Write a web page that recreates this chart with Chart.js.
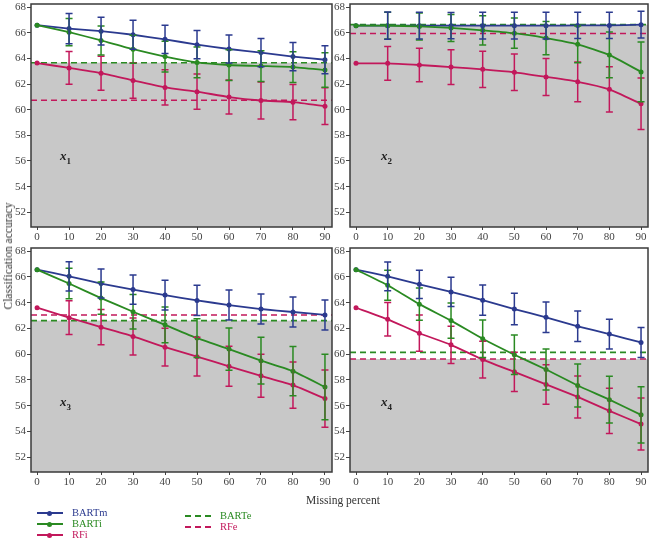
<!DOCTYPE html>
<html>
<head>
<meta charset="utf-8">
<script src="https://cdn.jsdelivr.net/npm/chart.js@4.4.1/dist/chart.umd.min.js"></script>
<style>
  body { margin: 0; background: #fff; width: 652px; height: 539px; position: relative; overflow: hidden; font-family: "Liberation Serif", serif; }
  .panel { position: absolute; }
  .tag { position: absolute; font-family: "Liberation Serif", serif; font-style: italic; font-weight: bold; font-size: 13px; color: #222; }
  .tag sub { font-style: normal; font-size: 9px; }
  .ytitle { position: absolute; left: 8px; top: 256px; transform: translate(-50%, -50%) rotate(-90deg); font-size: 11.5px; color: #333; white-space: nowrap; }
  .xtitle { position: absolute; left: 343px; top: 500px; transform: translate(-50%, -50%); font-size: 11.5px; color: #333; white-space: nowrap; }
  .leg { position: absolute; font-size: 10.5px; line-height: 12px; white-space: nowrap; }
  .leg .ln { position: absolute; top: 5px; width: 26px; height: 0; border-top: 2px solid; }
  .leg .dot { position: absolute; top: 3.5px; left: 10px; width: 5px; height: 5px; border-radius: 50%; }
  .leg .dash { border-top-style: dashed; }
  .leg span.t { position: absolute; left: 35px; top: 0; }
</style>
</head>
<body>
<div class="panel" style="left:0;top:0;width:336px;height:245px"><canvas id="c0"></canvas></div>
<div class="panel" style="left:319px;top:0;width:333px;height:245px"><canvas id="c1"></canvas></div>
<div class="panel" style="left:0;top:244px;width:336px;height:246px"><canvas id="c2"></canvas></div>
<div class="panel" style="left:319px;top:244px;width:333px;height:246px"><canvas id="c3"></canvas></div>

<div class="tag" style="left:60px;top:148px"><i>x</i><sub>1</sub></div>
<div class="tag" style="left:381px;top:148px"><i>x</i><sub>2</sub></div>
<div class="tag" style="left:60px;top:394px"><i>x</i><sub>3</sub></div>
<div class="tag" style="left:381px;top:394px"><i>x</i><sub>4</sub></div>

<div class="ytitle">Classification accuracy</div>
<div class="xtitle">Missing percent</div>

<div class="leg" style="left:37px;top:507px;color:#2b3a8f"><div class="ln" style="border-color:#2b3a8f"></div><div class="dot" style="background:#2b3a8f"></div><span class="t">BARTm</span></div>
<div class="leg" style="left:37px;top:518px;color:#2a8a22"><div class="ln" style="border-color:#2a8a22"></div><div class="dot" style="background:#2a8a22"></div><span class="t">BARTi</span></div>
<div class="leg" style="left:37px;top:529px;color:#c2185b"><div class="ln" style="border-color:#c2185b"></div><div class="dot" style="background:#c2185b"></div><span class="t">RFi</span></div>
<div class="leg" style="left:185px;top:510px;color:#2a8a22"><div class="ln dash" style="border-color:#2a8a22"></div><span class="t">BARTe</span></div>
<div class="leg" style="left:185px;top:521px;color:#c2185b"><div class="ln dash" style="border-color:#c2185b"></div><span class="t">RFe</span></div>

<script>
// missing percent on the x axis
var missing = [0, 10, 20, 30, 40, 50, 60, 70, 80, 90];
var yTicks = [52, 54, 56, 58, 60, 62, 64, 66, 68];

// one row per panel (x1..x4)
var bartm = [
  [66.6, 66.33, 66.13, 65.85, 65.49, 65.08, 64.74, 64.46, 64.15, 63.9],
  [66.56, 66.56, 66.56, 66.56, 66.56, 66.56, 66.56, 66.58, 66.58, 66.64],
  [66.57, 66.05, 65.49, 65.02, 64.59, 64.18, 63.82, 63.51, 63.28, 63.05],
  [66.57, 66.05, 65.43, 64.84, 64.2, 63.51, 62.87, 62.17, 61.56, 60.91]
];
var bartmErr = [
  [0, 1.18, 1.08, 1.13, 1.1, 1.1, 1.1, 1.1, 1.1, 1.1],
  [0, 1.06, 1.04, 1.03, 1.04, 1.04, 1.04, 1.03, 1.03, 1.05],
  [0, 1.14, 1.12, 1.14, 1.16, 1.18, 1.16, 1.16, 1.16, 1.17],
  [0, 1.12, 1.1, 1.13, 1.17, 1.22, 1.19, 1.18, 1.16, 1.16]
];
var barti = [
  [66.6, 66.05, 65.41, 64.72, 64.15, 63.69, 63.49, 63.41, 63.33, 63.1],
  [66.56, 66.56, 66.5, 66.38, 66.2, 65.97, 65.59, 65.1, 64.28, 62.95],
  [66.57, 65.49, 64.36, 63.3, 62.28, 61.25, 60.4, 59.5, 58.68, 57.45],
  [66.57, 65.36, 63.89, 62.61, 61.2, 59.96, 58.81, 57.57, 56.47, 55.29]
];
var bartiErr = [
  [0, 1.06, 1.13, 1.1, 1.2, 1.2, 1.2, 1.2, 1.2, 1.35],
  [0, 1.05, 1.05, 1.06, 1.14, 1.18, 1.3, 1.44, 1.78, 2.33],
  [0, 1.18, 1.25, 1.34, 1.39, 1.5, 1.64, 1.82, 1.91, 2.54],
  [0, 1.17, 1.26, 1.37, 1.45, 1.54, 1.6, 1.67, 1.81, 2.18]
];
var rfi = [
  [63.64, 63.26, 62.85, 62.28, 61.74, 61.41, 60.99, 60.72, 60.59, 60.28],
  [63.62, 63.62, 63.49, 63.33, 63.15, 62.92, 62.56, 62.18, 61.59, 60.46],
  [63.61, 62.84, 62.1, 61.38, 60.55, 59.81, 59.06, 58.32, 57.6, 56.55],
  [63.61, 62.71, 61.63, 60.73, 59.58, 58.63, 57.65, 56.68, 55.6, 54.57]
];
var rfiErr = [
  [0, 1.28, 1.33, 1.38, 1.38, 1.38, 1.33, 1.44, 1.38, 1.44],
  [0, 1.32, 1.31, 1.36, 1.41, 1.42, 1.44, 1.55, 1.76, 2.01],
  [0, 1.31, 1.37, 1.44, 1.46, 1.5, 1.55, 1.67, 1.79, 2.22],
  [0, 1.3, 1.41, 1.45, 1.43, 1.52, 1.54, 1.63, 1.76, 2.02]
];
// reference levels (dashed) and the grey band top
var barte = [63.67, 66.64, 62.61, 60.14];
var rfe = [60.74, 65.95, 63.05, 59.63];
var shade = [63.67, 66.64, 62.61, 59.63];

var BLUE = "#2b3a8f", GREEN = "#2a8a22", RED = "#c2185b";
var tickFont = { family: "Liberation Serif", size: 11 };

// grey band, dashed references, frame and error bars
var panelPlugin = {
  id: "panelDeco",
  beforeDatasetsDraw: function (chart) {
    var o = chart.options.plugins.panelDeco;
    var a = chart.chartArea, y = chart.scales.y, ctx = chart.ctx;
    ctx.save();
    var top = y.getPixelForValue(o.shade);
    ctx.fillStyle = "#c8c8c8";
    ctx.fillRect(a.left, top, a.right - a.left, a.bottom - top);
    ctx.lineWidth = 1.6;
    ctx.setLineDash([6, 4]);
    [[o.barte, GREEN], [o.rfe, RED]].forEach(function (r) {
      var py = y.getPixelForValue(r[0]);
      ctx.strokeStyle = r[1];
      ctx.beginPath();
      ctx.moveTo(a.left, py);
      ctx.lineTo(a.right, py);
      ctx.stroke();
    });
    ctx.restore();
  },
  afterDatasetsDraw: function (chart) {
    var a = chart.chartArea, x = chart.scales.x, y = chart.scales.y, ctx = chart.ctx;
    ctx.save();
    ctx.beginPath();
    ctx.rect(a.left, a.top, a.right - a.left, a.bottom - a.top);
    ctx.clip();
    chart.data.datasets.forEach(function (ds) {
      ctx.strokeStyle = ds.borderColor;
      ctx.lineWidth = 1.5;
      ds.data.forEach(function (p, i) {
        var e = ds.errors[i];
        if (!e) return;
        var px = x.getPixelForValue(p.x);
        var y1 = y.getPixelForValue(p.y + e), y2 = y.getPixelForValue(p.y - e);
        ctx.beginPath();
        ctx.moveTo(px, y1); ctx.lineTo(px, y2);
        ctx.moveTo(px - 3.5, y1); ctx.lineTo(px + 3.5, y1);
        ctx.moveTo(px - 3.5, y2); ctx.lineTo(px + 3.5, y2);
        ctx.stroke();
      });
    });
    ctx.restore();
    ctx.save();
    ctx.strokeStyle = "#3a3a3a";
    ctx.lineWidth = 1.5;
    ctx.strokeRect(a.left, a.top, a.right - a.left, a.bottom - a.top);
    ctx.restore();
  }
};

function series(label, vals, errs, color) {
  return {
    label: label,
    data: missing.map(function (m, i) { return { x: m, y: vals[i] }; }),
    errors: errs,
    borderColor: color,
    backgroundColor: color,
    borderWidth: 1.8,
    pointRadius: 2.5,
    pointBorderWidth: 0,
    tension: 0.15
  };
}

function makePanel(k, padRight) {
  new Chart(document.getElementById("c" + k), {
    type: "line",
    data: {
      datasets: [
        series("RFi", rfi[k], rfiErr[k], RED),
        series("BARTi", barti[k], bartiErr[k], GREEN),
        series("BARTm", bartm[k], bartmErr[k], BLUE)
      ]
    },
    options: {
      responsive: true,
      maintainAspectRatio: false,
      animation: false,
      layout: { padding: { top: 1, right: padRight, left: 0, bottom: 0 } },
      plugins: {
        legend: { display: false },
        tooltip: { enabled: false },
        panelDeco: { shade: shade[k], barte: barte[k], rfe: rfe[k] }
      },
      scales: {
        x: {
          type: "linear",
          min: -1.9,
          max: 92.2,
          afterBuildTicks: function (s) { s.ticks = missing.map(function (v) { return { value: v }; }); },
          afterFit: function (s) { s.height = 18; s.paddingLeft = 0; s.paddingRight = 0; },
          grid: { drawOnChartArea: false, tickLength: 3, tickColor: "#444" },
          border: { display: false },
          ticks: { font: tickFont, color: "#444", padding: 1, maxRotation: 0, autoSkip: false }
        },
        y: {
          min: 50.85,
          max: 68.25,
          afterBuildTicks: function (s) { s.ticks = yTicks.map(function (v) { return { value: v }; }); },
          afterFit: function (s) { s.width = 31; s.paddingTop = 0; s.paddingBottom = 0; },
          grid: { drawOnChartArea: false, tickLength: 4, tickColor: "#444" },
          border: { display: false },
          ticks: { font: tickFont, color: "#444", padding: 1 }
        }
      }
    },
    plugins: [panelPlugin]
  });
}

makePanel(0, 3);
makePanel(1, 1);
makePanel(2, 3);
makePanel(3, 1);
</script>
</body>
</html>
